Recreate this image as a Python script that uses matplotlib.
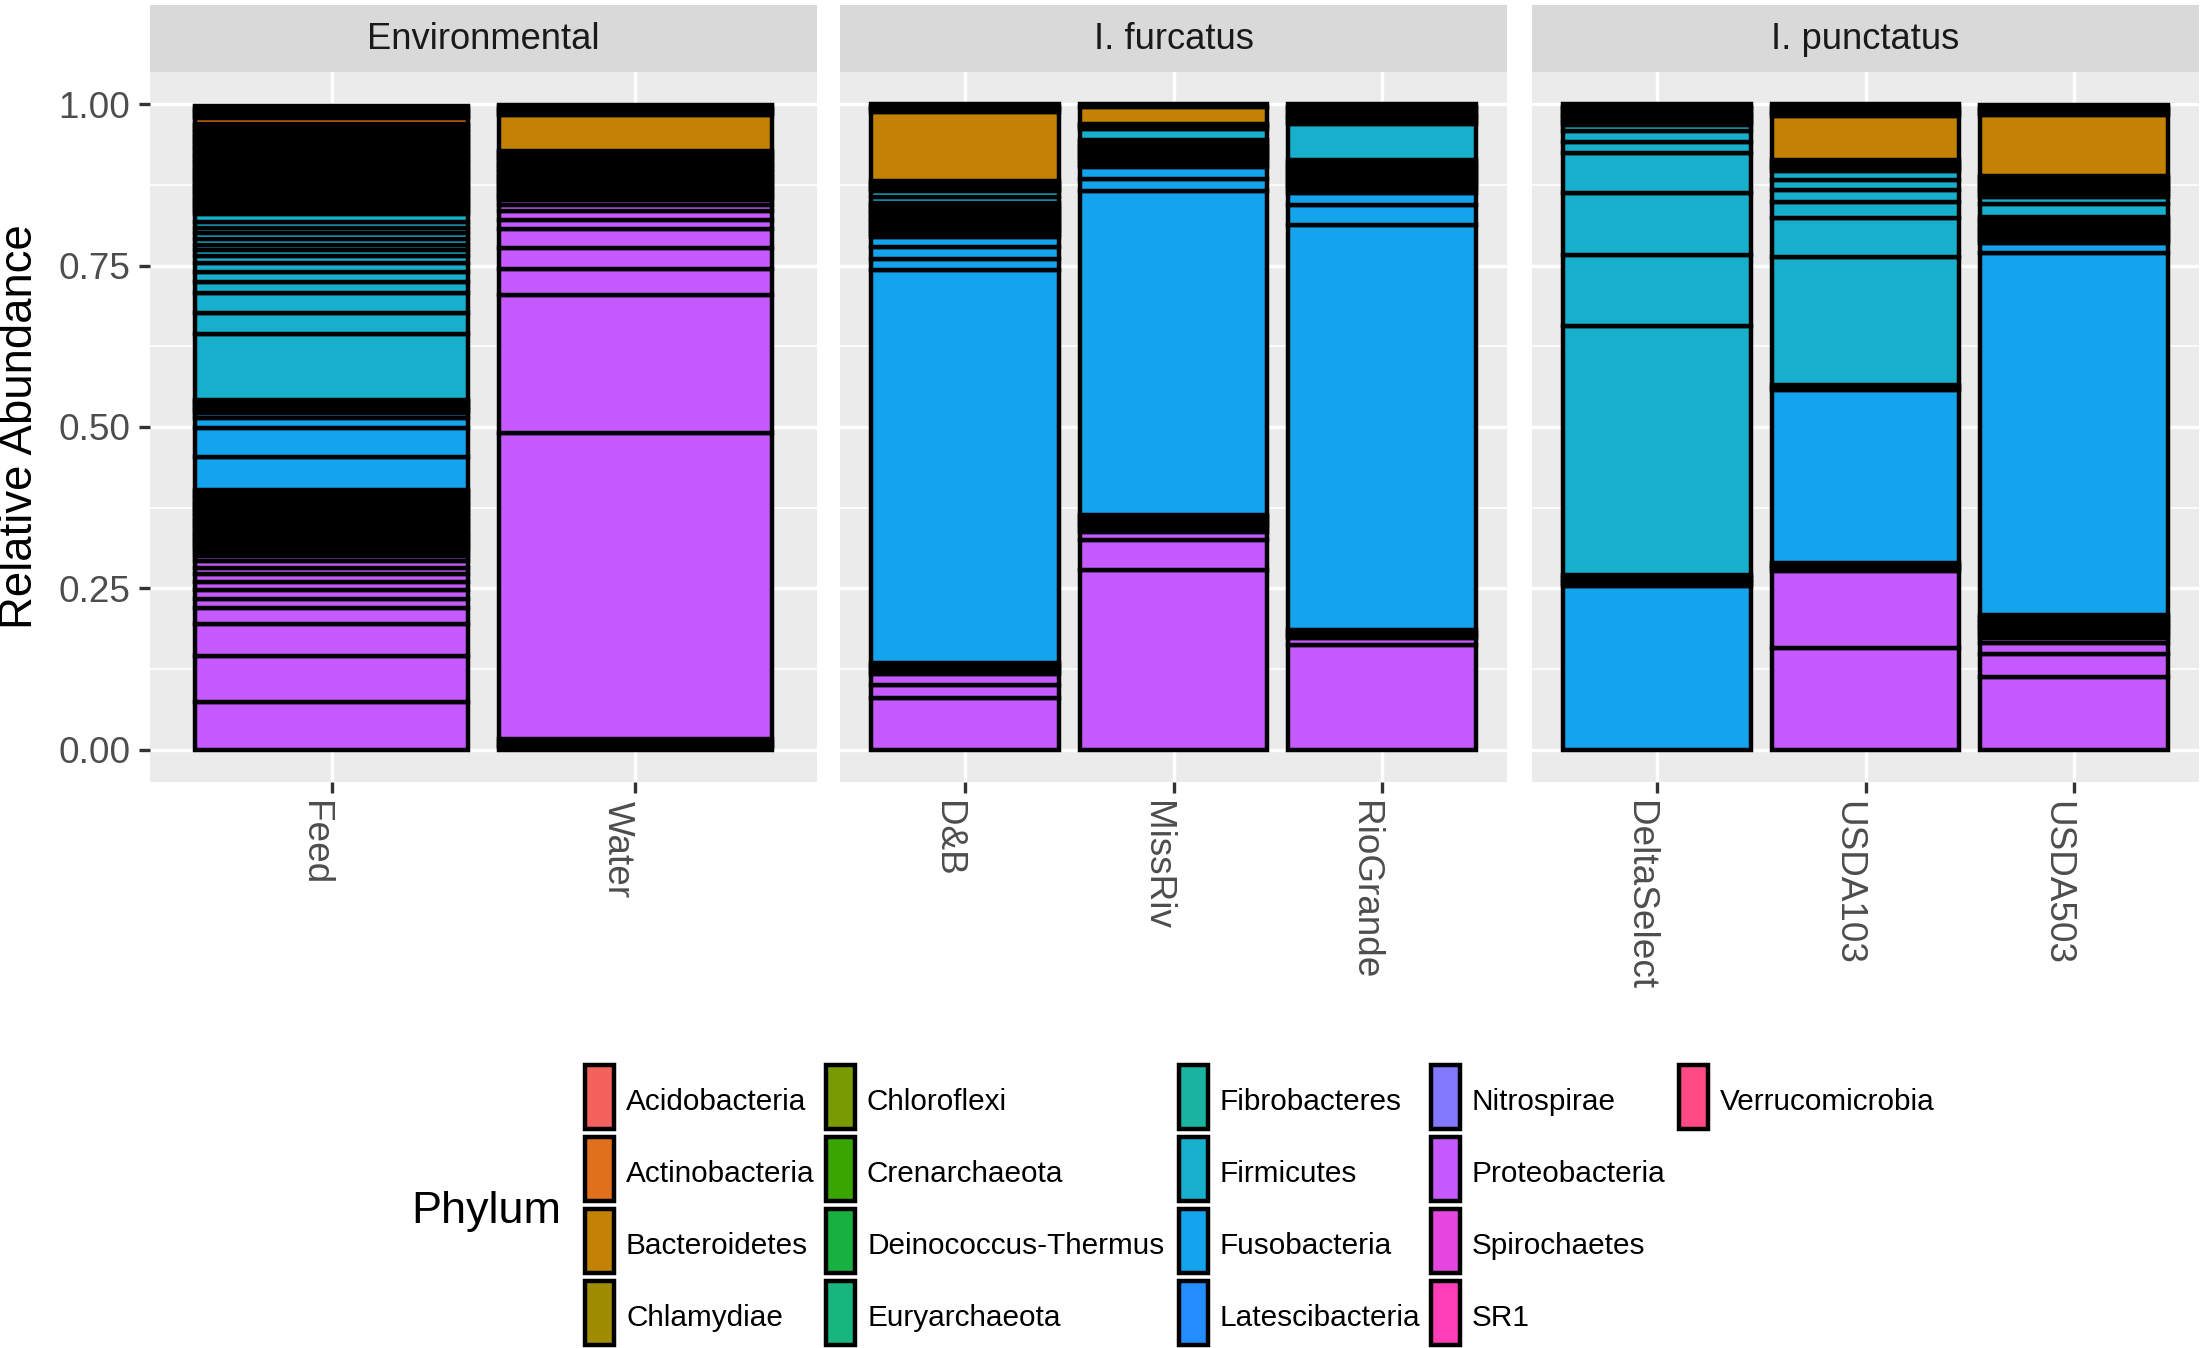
import numpy as np
import matplotlib
matplotlib.use("Agg")
import matplotlib.pyplot as plt
from matplotlib.patches import Rectangle

plt.rcParams['font.family'] = ['Liberation Sans', 'DejaVu Sans']

phyla = ['Acidobacteria', 'Actinobacteria', 'Bacteroidetes', 'Chlamydiae',
         'Chloroflexi', 'Crenarchaeota', 'Deinococcus-Thermus', 'Euryarchaeota',
         'Fibrobacteres', 'Firmicutes', 'Fusobacteria', 'Latescibacteria',
         'Nitrospirae', 'Proteobacteria', 'Spirochaetes', 'SR1', 'Verrucomicrobia']

panels = ['Environmental', 'I. furcatus', 'I. punctatus']
panel_samples = [['Feed', 'Water'],
                 ['D&B', 'MissRiv', 'RioGrande'],
                 ['DeltaSelect', 'USDA103', 'USDA503']]

# stacked segments, bottom -> top; the 0.004 runs are the many tiny OTUs (black bands)
feed = [('Proteobacteria', [0.074, 0.071, 0.050, 0.025, 0.014, 0.013, 0.013, 0.012, 0.010, 0.010, 0.008, 0.007, 0.004]),
        ('Proteobacteria', [0.004] * 23),
        ('Fusobacteria', [0.050, 0.045, 0.016, 0.008]),
        ('Fusobacteria', [0.004] * 5),
        ('Firmicutes', [0.102, 0.033, 0.030, 0.018, 0.015, 0.014, 0.011, 0.009, 0.008, 0.009, 0.009, 0.008, 0.009, 0.013]),
        ('Firmicutes', [0.004] * 20),
        ('Bacteroidetes', [0.004] * 15),
        ('Actinobacteria', [0.008]),
        ('Acidobacteria', [0.004] * 5)]

water = [('Verrucomicrobia', [0.004, 0.004]), ('SR1', [0.004]), ('Spirochaetes', [0.004]),
         ('Proteobacteria', [0.475, 0.213, 0.041, 0.032, 0.029, 0.015, 0.013, 0.010, 0.008]),
         ('Firmicutes', [0.004] * 19),
         ('Bacteroidetes', [0.055]),
         ('Acidobacteria', [0.004] * 4)]

db = [('Proteobacteria', [0.080, 0.020, 0.018]), ('Proteobacteria', [0.004] * 4),
      ('Fusobacteria', [0.610, 0.017, 0.018, 0.016]),
      ('Firmicutes', [0.004] * 13), ('Firmicutes', [0.010, 0.008]), ('Firmicutes', [0.004] * 4),
      ('Bacteroidetes', [0.107]), ('Acidobacteria', [0.004] * 3)]

missriv = [('Proteobacteria', [0.279, 0.046, 0.013, 0.006]), ('Proteobacteria', [0.004] * 5),
           ('Fusobacteria', [0.502, 0.018, 0.019, 0.005]), ('Fusobacteria', [0.004] * 9),
           ('Firmicutes', [0.018]), ('Firmicutes', [0.004] * 2),
           ('Bacteroidetes', [0.026]), ('Acidobacteria', [0.004])]

riogrande = [('Proteobacteria', [0.163, 0.010]), ('Proteobacteria', [0.004] * 3),
             ('Fusobacteria', [0.628, 0.031, 0.018, 0.007]), ('Fusobacteria', [0.004] * 11),
             ('Firmicutes', [0.057]), ('Bacteroidetes', [0.004] * 4),
             ('Actinobacteria', [0.006]), ('Acidobacteria', [0.004] * 2)]

deltaselect = [('Fusobacteria', [0.254]), ('Fusobacteria', [0.004] * 4),
               ('Firmicutes', [0.386, 0.110, 0.097, 0.062, 0.016, 0.017, 0.010]),
               ('Bacteroidetes', [0.004] * 8)]

usda103 = [('Proteobacteria', [0.157, 0.120]), ('Proteobacteria', [0.004] * 3),
           ('Fusobacteria', [0.268]), ('Fusobacteria', [0.004] * 2),
           ('Firmicutes', [0.198, 0.061, 0.024, 0.019, 0.015, 0.015]), ('Firmicutes', [0.004] * 4),
           ('Bacteroidetes', [0.069]), ('Bacteroidetes', [0.004] * 2),
           ('Actinobacteria', [0.006]), ('Acidobacteria', [0.004])]

usda503 = [('Proteobacteria', [0.113, 0.036, 0.016, 0.008, 0.007]), ('Proteobacteria', [0.004] * 7),
           ('Fusobacteria', [0.562, 0.015]), ('Fusobacteria', [0.004] * 10),
           ('Firmicutes', [0.021, 0.011]), ('Firmicutes', [0.004] * 8),
           ('Bacteroidetes', [0.094]), ('Acidobacteria', [0.004] * 4)]

sample_data = {'Feed': feed, 'Water': water, 'D&B': db, 'MissRiv': missriv,
               'RioGrande': riogrande, 'DeltaSelect': deltaselect,
               'USDA103': usda103, 'USDA503': usda503}

# palette as seen in the legend
palette = ['#F4625E', '#E0701B', '#C38204', '#A08C02', '#7A9A01', '#39A600',
           '#18B040', '#17B67E', '#19B39F', '#17AFCC', '#14A3ED', '#238DFF',
           '#8279FF', '#C45AFF', '#E646E0', '#FF3EB8', '#FF4A86']
colors = dict(zip(phyla, palette))

W, H = 2200, 1348
fig = plt.figure(figsize=(11, 6.74), dpi=200)

ax_x = [150, 840, 1532]
ax_w = 667
ax_top, ax_bot = 72, 782
strip_h = 67
edge_lw = 1.6

for k, (title, samples) in enumerate(zip(panels, panel_samples)):
    ax = fig.add_axes([ax_x[k] / W, 1 - ax_bot / H, ax_w / W, (ax_bot - ax_top) / H])
    ax.set_facecolor('#EBEBEB')
    pos = np.arange(1, len(samples) + 1)
    for x, s in zip(pos, samples):
        bottom = 0.0
        for phylum, vals in sample_data[s]:
            for v in vals:
                ax.bar(x, v, width=0.9, bottom=bottom, color=colors[phylum],
                       edgecolor='black', linewidth=edge_lw, zorder=3)
                bottom += v
    ax.set_xlim(0.4, len(samples) + 0.6)
    ax.set_ylim(-0.05, 1.05)
    ax.set_xticks(pos)
    ax.set_xticklabels(samples, rotation=-90, ha='right', fontsize=13.3, color='#4D4D4D')
    ax.set_yticks([0, 0.25, 0.5, 0.75, 1.0])
    ax.set_yticks([0.125, 0.375, 0.625, 0.875], minor=True)
    ax.set_yticklabels(['0.00', '0.25', '0.50', '0.75', '1.00'], fontsize=13.3, color='#4D4D4D')
    ax.grid(which='major', color='white', linewidth=1.2, zorder=0)
    ax.grid(which='minor', axis='y', color='white', linewidth=0.6, zorder=0)
    ax.set_axisbelow(True)
    for sp in ax.spines.values():
        sp.set_visible(False)
    ax.tick_params(which='major', length=4, width=1.2, color='#333333', pad=3)
    ax.tick_params(which='minor', length=0)
    if k > 0:
        ax.tick_params(axis='y', left=False, labelleft=False)

    sax = fig.add_axes([ax_x[k] / W, 1 - ax_top / H, ax_w / W, strip_h / H])
    sax.set_facecolor('#D9D9D9')
    sax.set_xticks([])
    sax.set_yticks([])
    for sp in sax.spines.values():
        sp.set_visible(False)
    sax.text(0.5, 0.48, title, ha='center', va='center', fontsize=13.1,
             color='#1A1A1A', transform=sax.transAxes)

fig.text(20 / W, 1 - 427 / H, 'Relative Abundance', rotation=90, ha='center',
         va='center', fontsize=16.4, color='black')

# legend, filled column by column like ggplot
key_x = [585, 826, 1179, 1431, 1679]
row_y = [1097, 1169, 1241, 1313]
key_w, key_h = 29, 64
for i, p in enumerate(phyla):
    col, row = divmod(i, 4)
    x0 = key_x[col]
    yc = row_y[row]
    fig.add_artist(Rectangle((x0 / W, 1 - (yc + key_h / 2) / H), key_w / W, key_h / H,
                             transform=fig.transFigure, facecolor=colors[p],
                             edgecolor='black', linewidth=edge_lw))
    fig.text((x0 + 41) / W, 1 - (yc + 5) / H, p, ha='left', va='center', fontsize=10.7)

fig.text(411 / W, 1 - 1212 / H, 'Phylum', ha='left', va='center', fontsize=16.2)

fig.savefig('out.png', dpi=200, facecolor='white')
